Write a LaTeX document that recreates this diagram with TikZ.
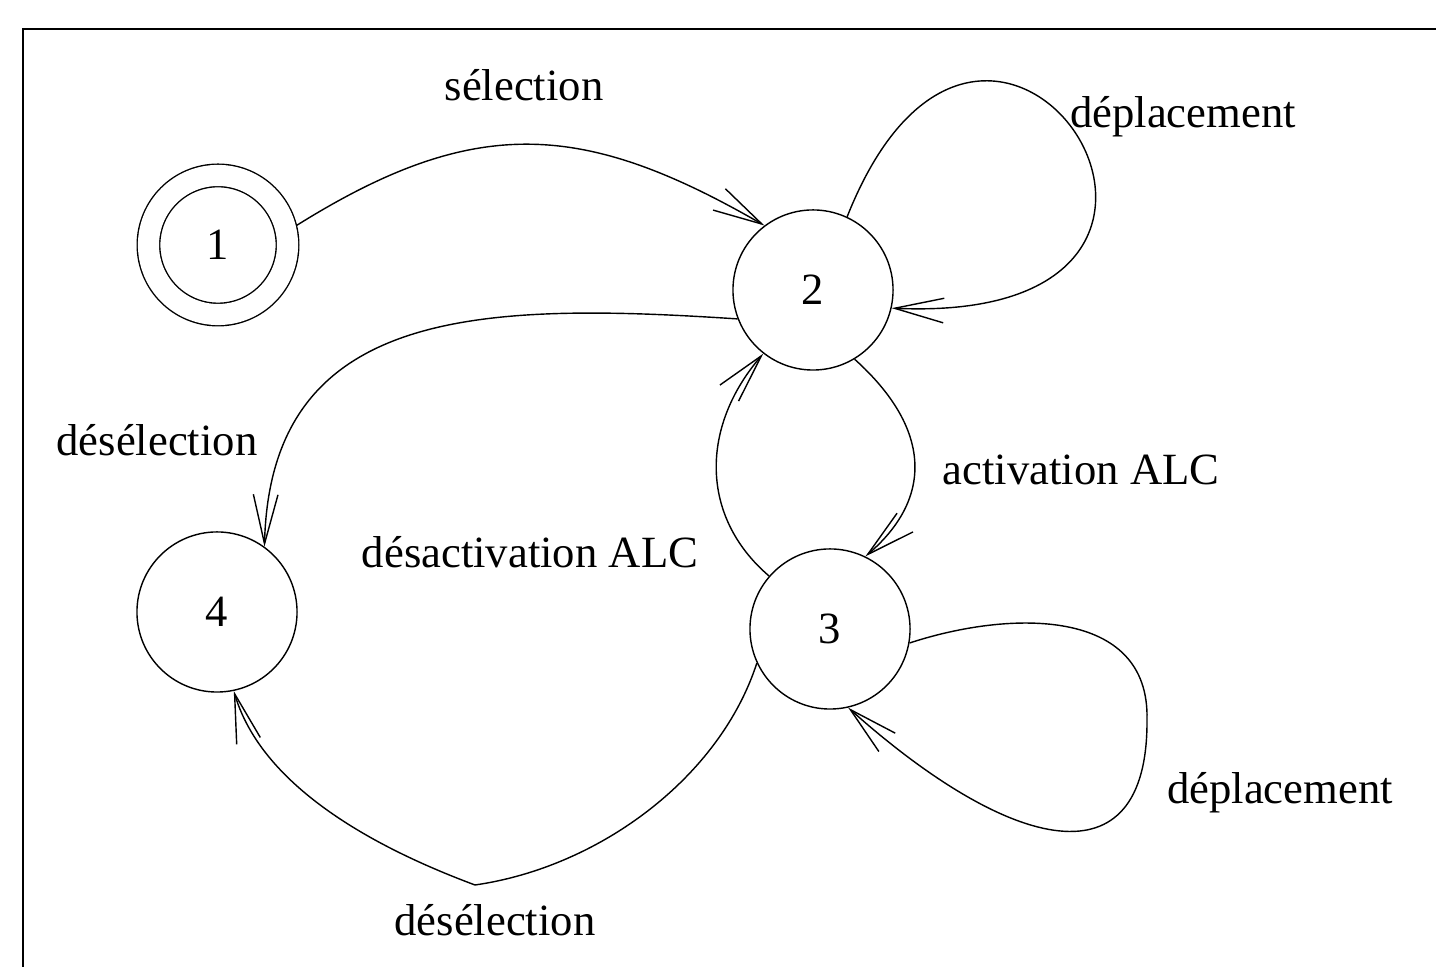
\documentclass[tikz,border=0pt]{standalone}
\usepackage{fontspec}
\setmainfont{Liberation Serif}
\usepackage{tikz}
\usetikzlibrary{automata, positioning, arrows.meta}
\tikzset{
->, % every connector is directed
>={Straight Barb[length=14pt, width=7pt]}, % long open barbs as in the figure
line width=0.6pt, % thin strokes everywhere
every state/.style={draw, minimum size=1.6cm, inner sep=0pt}, % plain circles for the states
final/.style={double, double distance=6pt, minimum size=1.39cm, outer sep=3.3pt}, % start state with two rings
}

\begin{document}
\begin{tikzpicture}[x=0.01cm, y=0.01cm, font=\fontsize{12.7}{15}\selectfont]
  \useasboundingbox (0,0) rectangle (1436,967);
  \draw[-, line width=0.7pt] (23,-50) rectangle (1500,938);

  \node[state, final] (q1) at (218,722) {1};
  \node[state] (q2) at (813,677) {2};
  \node[state] (q3) at (830,338) {3};
  \node[state] (q4) at (217,355) {4};

  \node (lsel) at (524,882) {sélection};
  \node (ldep2) at (1183,850) {déplacement};
  \node (ldes2) at (157,527) {désélection};
  \node (lact) at (1081,497) {activation ALC};
  \node (ldesact) at (530,415) {désactivation ALC};
  \node (ldep3) at (1280,174) {déplacement};
  \node (ldes3) at (495,47) {désélection};

  \draw (q1.14) to[out=32, in=150, looseness=1.15] (q2.127);
  \draw (q2.65) .. controls (990,1110) and (1300,640) .. (q2.-13);
  \draw (q2.201) .. controls (480,665) and (270,660) .. (q4.54);
  \draw (q2.-59) .. controls (930,540) and (935,470) .. (q3.64);
  \draw (q3.139) .. controls (700,450) and (700,540) .. (q2.232);
  \draw (q3.-10) .. controls (1010,357) and (1150,360) .. (1147,247)
    .. controls (1148,80) and (1010,115) .. (q3.-77);
  \draw (q3.205) .. controls (720,190) and (600,100) .. (475,82)
    .. controls (400,110) and (265,170) .. (q4.-78);
\end{tikzpicture}
\end{document}
